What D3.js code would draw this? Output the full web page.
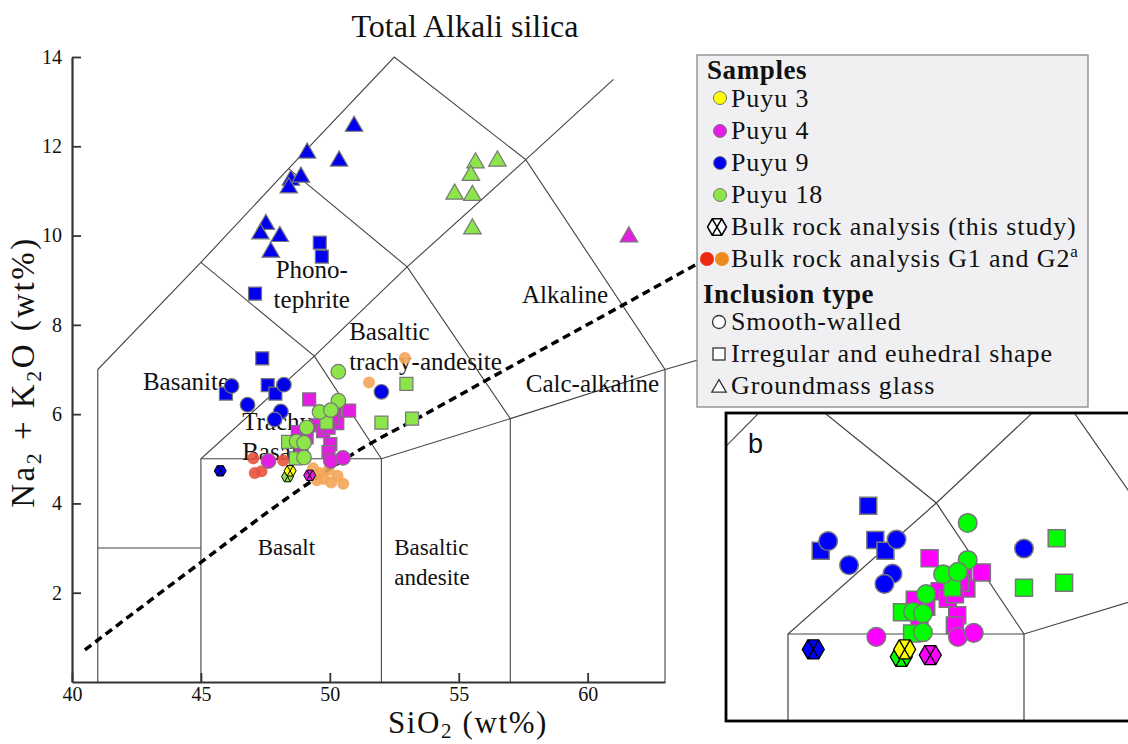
<!DOCTYPE html>
<html>
<head>
<meta charset="utf-8">
<script src="https://cdn.jsdelivr.net/npm/d3@7"></script>
<style>
  body { margin: 0; background: #fff; }
  text { font-family: "Liberation Serif", serif; fill: #111; }
</style>
</head>
<body>
<svg width="1128" height="744"></svg>
<script>
// ---- data (SiO2, Na2O+K2O in wt%) ----
const xTicks = [40, 45, 50, 55, 60];
const yTicks = [2, 4, 6, 8, 10, 12, 14];

// Puyu 9
const p9Circles = [[46.19, 6.63], [48.22, 6.66], [46.81, 6.21], [48.10, 6.06], [47.86, 5.88], [52.0, 6.5]];
const p9Squares = [[47.38, 7.25], [45.97, 6.46], [47.59, 6.65], [47.89, 6.46]];
const p9SquaresHigh = [[47.1, 8.7], [49.61, 9.84], [49.69, 9.53]];
const p9Triangles = [[50.94, 12.45], [49.12, 11.85], [50.36, 11.67], [48.49, 11.24], [48.88, 11.31],
                     [48.41, 11.07], [47.52, 10.25], [47.31, 10.04], [48.06, 9.98], [47.71, 9.63]];
const p9Bulk = [[45.75, 4.73]];

// Puyu 4
const p4Circles = [[47.62, 4.95], [50.04, 4.95], [50.51, 5.02]];
const p4Squares = [[49.2, 6.33], [50.75, 6.08], [50.19, 5.98], [50.29, 5.8], [50.1, 5.9], [49.5, 5.75],
                   [49.74, 5.62], [49.95, 5.7], [48.76, 5.6], [48.9, 5.28], [49.1, 5.48], [50.02, 5.33], [49.95, 5.15]];
const p4Triangles = [[61.6, 9.97]];
const p4Bulk = [[49.22, 4.63]];

// Puyu 18
const p18Circles = [[50.33, 6.95], [50.33, 6.3], [49.6, 6.05], [50.04, 6.09], [49.1, 5.7],
                    [48.71, 5.39], [49.0, 5.36], [49.0, 5.03]];
const p18Squares = [[49.87, 5.81], [48.38, 5.38], [48.68, 5.01], [52.97, 6.68], [52.0, 5.81], [53.19, 5.9]];
const p18Triangles = [[55.65, 11.63], [56.5, 11.67], [55.47, 11.35], [54.84, 10.93], [55.53, 10.9], [55.53, 10.15]];
const p18Bulk = [[48.36, 4.6]];

// Puyu 3
const p3Bulk = [[48.46, 4.73]];

// bulk rock G1 / G2
const g1Points = [[47.03, 5.01], [47.09, 4.68], [47.35, 4.72], [48.19, 4.96]];
const g2Points = [[52.91, 7.26], [51.52, 6.71], [49.35, 4.79], [49.6, 4.68], [49.95, 4.75], [49.75, 4.55],
                  [50.05, 4.47], [50.3, 4.62], [50.52, 4.44], [49.5, 4.52]];

// TAS field boundaries
const tasLines = [
  [[41, 0], [41, 7], [45, 9.4], [48.4, 11.5], [52.5, 14], [57.6, 11.7], [63, 7], [63, 0]],
  [[41, 3], [45, 3]],
  [[45, 0], [45, 5], [49.4, 7.3], [53, 9.3], [57.6, 11.7], [61, 13.5]],
  [[45, 5], [52, 5], [57, 5.9], [63, 7], [69, 8]],
  [[52, 0], [52, 5]],
  [[57, 0], [57, 5.9], [53, 9.3], [48.4, 11.5]],
  [[45, 9.4], [49.4, 7.3], [52, 5]]
];

// alkaline / sub-alkaline divide
const divideLine = [[40.5, 0.72], [45, 2.68], [48.3, 4.1], [51.3, 5.25], [53.7, 6.0], [56.1, 6.77], [61.2, 8.39], [64.2, 9.35]];

const fieldLabels = [
  {lines: ["Phono-", "tephrite"], x: 49.3, y: 9.05, anchor: "middle"},
  {lines: ["Basanite"], x: 42.75, y: 6.55, anchor: "start"},
  {lines: ["Trachy-", "Basalt"], x: 46.6, y: 5.65, anchor: "start"},
  {lines: ["Basaltic", "trachy-andesite"], x: 50.75, y: 7.67, anchor: "start"},
  {lines: ["Alkaline"], x: 57.45, y: 8.5, anchor: "start"},
  {lines: ["Calc-alkaline"], x: 57.6, y: 6.5, anchor: "start"},
  {lines: ["Basalt"], x: 47.2, y: 2.85, anchor: "start", small: true},
  {lines: ["Basaltic", "andesite"], x: 52.5, y: 2.85, anchor: "start", small: true}
];

// ---- styling ----
const mainColor = {p3: "#ffff00", p4: "#e31ee3", p9: "#0000ee", p18: "#8ce64a", g1: "#e8533c", g2: "#f4a556"};
const insetColor = {p3: "#ffff00", p4: "#ff00ff", p9: "#0000ff", p18: "#00ff00"};

const svg = d3.select("svg");
const x = d3.scaleLinear().domain([40, 63]).range([72, 665]);
const y = d3.scaleLinear().domain([0, 14]).range([682, 57]);

function hexPath(r) {
  const h = r * 0.866;
  return `M${r},0L${r/2},${h}L${-r/2},${h}L${-r},0L${-r/2},${-h}L${r/2},${-h}Z` +
         `M${-r/2},${-h}L${r/2},${h}M${r/2},${-h}L${-r/2},${h}`;
}
function shapePath(shape, s) {
  if (shape === "circle") return d3.symbol(d3.symbolCircle, Math.PI * s * s)();
  if (shape === "square") return d3.symbol(d3.symbolSquare, s * s)();
  if (shape === "triangle") return d3.symbol(d3.symbolTriangle, s * s * 0.433)();
  return hexPath(s);
}

// marks in drawing order
const groups = [
  {id: "g1", shape: "circle", pts: g1Points},
  {id: "g2", shape: "circle", pts: g2Points},
  {id: "p9", shape: "triangle", pts: p9Triangles},
  {id: "p18", shape: "triangle", pts: p18Triangles},
  {id: "p4", shape: "triangle", pts: p4Triangles},
  {id: "p9", shape: "square", pts: p9SquaresHigh, mainOnly: true},
  {id: "p9", shape: "square", pts: p9Squares},
  {id: "p9", shape: "circle", pts: p9Circles},
  {id: "p4", shape: "square", pts: p4Squares},
  {id: "p4", shape: "circle", pts: p4Circles},
  {id: "p18", shape: "square", pts: p18Squares},
  {id: "p18", shape: "circle", pts: p18Circles},
  {id: "p9", shape: "hex", pts: p9Bulk},
  {id: "p18", shape: "hex", pts: p18Bulk},
  {id: "p3", shape: "hex", pts: p3Bulk},
  {id: "p4", shape: "hex", pts: p4Bulk}
];
const marks = groups.flatMap(g => g.pts.map(p => ({id: g.id, shape: g.shape, mainOnly: g.mainOnly, x: p[0], y: p[1]})));

// ---- title ----
svg.append("text").attr("x", 465).attr("y", 37).attr("text-anchor", "middle")
  .style("font-size", "32px").text("Total Alkali silica");

// ---- main plot ----
const lineMain = d3.line().x(d => x(d[0])).y(d => y(d[1]));
svg.append("g").selectAll("path").data(tasLines).join("path")
  .attr("d", lineMain).attr("fill", "none").attr("stroke", "#444").attr("stroke-width", 1.1);

const labelG = svg.append("g");
fieldLabels.forEach(l => {
  const t = labelG.append("text").attr("text-anchor", l.anchor)
    .style("font-size", l.small ? "23px" : "25px");
  l.lines.forEach((s, i) => t.append("tspan").attr("x", x(l.x)).attr("y", y(l.y) + i * 30).text(s));
});

svg.append("path").datum(divideLine)
  .attr("d", lineMain.curve(d3.curveMonotoneX))
  .attr("fill", "none").attr("stroke", "#000").attr("stroke-width", 3.5).attr("stroke-dasharray", "8,5");

const mainSize = {circle: 7.3, square: 13, triangle: 17.5, hex: 6};
svg.append("g").selectAll("path").data(marks).join("path")
  .attr("transform", d => `translate(${x(d.x)},${y(d.y)})`)
  .attr("d", d => shapePath(d.shape, (d.id === "g1" || d.id === "g2") ? 6 : mainSize[d.shape]))
  .attr("fill", d => mainColor[d.id])
  .attr("fill-opacity", d => (d.id === "g1" || d.id === "g2") ? 0.9 : 1)
  .attr("stroke", d => d.shape === "hex" ? "#000" : (d.id === "g1" || d.id === "g2") ? "none" : "#777")
  .attr("stroke-width", d => d.shape === "hex" ? 1 : 1.2);

// axes
const xAxis = svg.append("g").attr("transform", "translate(0,682)")
  .call(d3.axisBottom(x).tickValues(xTicks).tickSize(-9).tickSizeOuter(0).tickPadding(5));
const yAxis = svg.append("g").attr("transform", "translate(72,0)")
  .call(d3.axisLeft(y).tickValues(yTicks).tickSize(-9).tickSizeOuter(0).tickPadding(10));
[xAxis, yAxis].forEach(a => {
  a.select(".domain").attr("stroke", "#333").attr("stroke-width", 2.2);
  a.selectAll(".tick line").attr("stroke", "#333").attr("stroke-width", 1.8);
  a.selectAll(".tick text").style("font-family", "Liberation Serif, serif").style("font-size", "20px").attr("fill", "#333");
});

// axis titles
const xt = svg.append("text").attr("x", 468).attr("y", 733).attr("text-anchor", "middle")
  .style("font-size", "31px").style("letter-spacing", "1.6px");
xt.append("tspan").text("SiO");
xt.append("tspan").attr("dy", 5).style("font-size", "21px").text("2");
xt.append("tspan").attr("dy", -5).text(" (wt%)");

const yt = svg.append("text").attr("transform", "translate(34,372) rotate(-90)").attr("text-anchor", "middle")
  .style("font-size", "33px").style("letter-spacing", "2.5px");
yt.append("tspan").text("Na");
yt.append("tspan").attr("dy", 7).style("font-size", "22px").text("2");
yt.append("tspan").attr("dy", -7).text(" + K");
yt.append("tspan").attr("dy", 7).style("font-size", "22px").text("2");
yt.append("tspan").attr("dy", -7).text("O (wt%)");

// ---- legend ----
const lg = svg.append("g");
lg.append("rect").attr("x", 697).attr("y", 55).attr("width", 391).attr("height", 352)
  .attr("fill", "#f0f0f2").attr("stroke", "#888").attr("stroke-width", 1.3);
const legendText = (tx, ty, s, bold) => lg.append("text").attr("x", tx).attr("y", ty)
  .style("font-size", bold ? "27px" : "26px").style("letter-spacing", bold ? "0.6px" : "0.9px")
  .style("font-weight", bold ? "bold" : "normal").text(s);

legendText(707, 79, "Samples", true);
[["p3", "Puyu 3", 98, 107], ["p4", "Puyu 4", 131, 139], ["p9", "Puyu 9", 163, 171], ["p18", "Puyu 18", 195, 203]]
  .forEach(([id, name, cy, ty]) => {
    lg.append("circle").attr("cx", 720).attr("cy", cy).attr("r", 6.5).attr("fill", mainColor[id]).attr("stroke", "#777");
    legendText(731, ty, name);
  });
lg.append("path").attr("transform", "translate(717,227)").attr("d", hexPath(9.5))
  .attr("fill", "#fff").attr("stroke", "#000").attr("stroke-width", 1.5);
legendText(731, 235, "Bulk rock analysis (this study)");
lg.append("circle").attr("cx", 707).attr("cy", 259).attr("r", 7).attr("fill", "#ee2a10");
lg.append("circle").attr("cx", 722).attr("cy", 259).attr("r", 7).attr("fill", "#ee8a1e");
const g12 = legendText(731, 267, "Bulk rock analysis G1 and G2");
g12.append("tspan").attr("dy", -10).style("font-size", "17px").text("a");
legendText(703, 303, "Inclusion type", true);
lg.append("circle").attr("cx", 719).attr("cy", 322).attr("r", 6.5).attr("fill", "#fff").attr("stroke", "#333").attr("stroke-width", 1.3);
legendText(731, 330, "Smooth-walled");
lg.append("rect").attr("x", 713).attr("y", 348).attr("width", 12).attr("height", 12).attr("fill", "#fff").attr("stroke", "#333").attr("stroke-width", 1.3);
legendText(731, 362, "Irregular and euhedral shape");
lg.append("path").attr("transform", "translate(719,388)").attr("d", d3.symbol(d3.symbolTriangle, 90)())
  .attr("fill", "#fff").attr("stroke", "#333").attr("stroke-width", 1.3);
legendText(731, 394, "Groundmass glass");

// ---- inset b ----
const xi = d3.scaleLinear().domain([45, 52]).range([788, 1024]);
const yi = d3.scaleLinear().domain([5, 7.3]).range([634, 503]);
svg.append("clipPath").attr("id", "insetClip").append("rect")
  .attr("x", 726).attr("y", 413).attr("width", 410).attr("height", 308);
const ins = svg.append("g").attr("clip-path", "url(#insetClip)");
ins.append("rect").attr("x", 726).attr("y", 413).attr("width", 410).attr("height", 308).attr("fill", "#fff");
const lineInset = d3.line().x(d => xi(d[0])).y(d => yi(d[1]));
ins.selectAll("path.b").data(tasLines).join("path").attr("class", "b")
  .attr("d", lineInset).attr("fill", "none").attr("stroke", "#444").attr("stroke-width", 1.2);

const insetSize = {circle: 9.3, square: 17, triangle: 20, hex: 11};
ins.selectAll("path.m").data(marks.filter(d => !d.mainOnly && d.id !== "g1" && d.id !== "g2" && d.shape !== "triangle"))
  .join("path").attr("class", "m")
  .attr("transform", d => `translate(${xi(d.x)},${yi(d.y)})`)
  .attr("d", d => shapePath(d.shape, insetSize[d.shape]))
  .attr("fill", d => insetColor[d.id])
  .attr("stroke", d => d.shape === "hex" ? "#000" : "#777")
  .attr("stroke-width", d => d.shape === "hex" ? 1.3 : 1.5);

svg.append("rect").attr("x", 726).attr("y", 413).attr("width", 410).attr("height", 308)
  .attr("fill", "none").attr("stroke", "#000").attr("stroke-width", 2.8);
svg.append("text").attr("x", 748).attr("y", 453).style("font-family", "Liberation Sans, Arial, sans-serif")
  .style("font-size", "27px").text("b");
</script>
</body>
</html>
